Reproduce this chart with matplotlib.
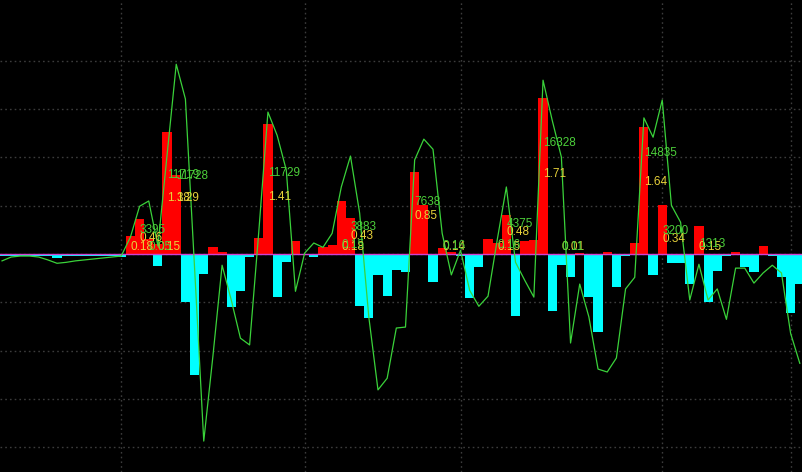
import matplotlib
matplotlib.use("Agg")
import matplotlib.pyplot as plt
import numpy as np

# ---- data (one value per trading bar, left to right) ----
red_vals = [
    0, 0, 0, 0, 0, 0, 0, 0, 0, 0,
    0, 0, 0, 0, 0.37, 0.72, 0.31, 0.21, 2.53, 1.64,
    0, 0, 0, 0.14, 0.05, 0, 0, 0, 0.33, 2.69,
    0, 0, 0.27, 0, 0, 0.14, 0.19, 1.10, 0.75, 0,
    0, 0, 0, 0, 0, 1.70, 1.01, 0, 0.12, 0.04,
    0, 0, 0, 0.31, 0.23, 0.81, 0, 0.27, 0.29, 3.23,
    0, 0, 0, 0.02, 0, 0, 0.04, 0, 0, 0.23,
    2.63, 0, 1.01, 0, 0, 0, 0.58, 0, 0, 0,
    0.05, 0, 0, 0.17, 0, 0, 0, 0,
]
cyan_vals = [
    0.04, 0.04, 0.04, 0.04, 0.04, 0.04, 0.08, 0.04, 0.03, 0.03,
    0.03, 0.03, 0.04, 0.05, 0, 0, 0, 0.25, 0, 0,
    0.99, 2.51, 0.41, 0, 0, 1.10, 0.77, 0.06, 0, 0,
    0.89, 0.17, 0, 0, 0.06, 0, 0, 0, 0, 1.08,
    1.33, 0.43, 0.87, 0.33, 0.37, 0, 0, 0.58, 0, 0,
    0.04, 0.91, 0.27, 0, 0, 0, 1.28, 0, 0, 0,
    1.18, 0.23, 0.48, 0, 0.89, 1.61, 0, 0.68, 0.04, 0,
    0, 0.43, 0, 0.19, 0.19, 0.62, 0, 0.99, 0.35, 0.04,
    0, 0.27, 0.37, 0, 0.03, 0.48, 1.22, 0.62,
]
line_vals = [
    -0.14, -0.06, -0.04, -0.04, -0.06, -0.12, -0.19, -0.17, -0.14, -0.12,
    -0.10, -0.08, -0.06, -0.04, 0.35, 0.99, 1.10, 0.17, 2.05, 3.93,
    3.21, -0.29, -3.87, -2.11, -0.23, -0.95, -1.74, -1.88, 0.46, 2.94,
    2.46, 1.74, -0.77, 0.02, 0.23, 0.14, 0.43, 1.39, 2.03, 0.85,
    -1.30, -2.81, -2.57, -1.53, -1.51, 1.95, 2.38, 2.17, 0.43, -0.43,
    0.08, -0.75, -1.08, -0.87, 0.29, 1.39, -0.17, -0.54, -0.89, 3.60,
    2.77, 2.01, -1.84, -0.62, -1.30, -2.38, -2.44, -2.15, -0.72, -0.48,
    2.82, 2.42, 3.19, 1.01, 0.66, -0.95, -0.21, -0.95, -0.72, -1.35,
    -0.29, -0.29, -0.60, -0.39, -0.23, -0.39, -1.64, -2.26,
]

# annotations: (bar index, text, level)
green_labels = [
    (15, "3395", 0.50), (18, "11719", 1.64), (19, "11728", 1.61),
    (29, "11729", 1.68), (38, "3883", 0.56), (45, "7638", 1.08),
    (55, "4375", 0.62), (59, "16328", 2.30), (70, "14835", 2.09),
    (72, "3200", 0.48), (76, "1313", 0.21),
    (16, "0.05", 0.14), (37, "0.15", 0.18), (48, "0.16", 0.17),
    (54, "0.16", 0.19), (61, "0.11", 0.15),
]
yellow_labels = [
    (15, "0.46", 0.34), (18, "1.38", 1.17), (19, "1.29", 1.17),
    (29, "1.41", 1.19), (38, "0.43", 0.37), (45, "0.85", 0.79),
    (55, "0.48", 0.45), (59, "1.71", 1.66), (70, "1.64", 1.50),
    (72, "0.34", 0.32), (76, "0.15", 0.14),
    (14, "0.18", 0.15), (17, "0.15", 0.15), (37, "0.18", 0.14),
    (48, "0.14", 0.15), (54, "0.15", 0.14), (61, "0.01", 0.15),
]
vgrid_pos = [13, 33, 50.1, 72, 86]
ygrid_pos = [-4, -3, -2, -1, 0, 1, 2, 3, 4]

# ---- drawing ----
x = np.arange(len(red_vals))
fig = plt.figure(figsize=(8.03, 4.72), dpi=100, facecolor="black")
ax = fig.add_axes([0, 0, 1, 1])
ax.set_facecolor("black")
for s in ax.spines.values():
    s.set_visible(False)

ax.set_xlim(-0.22, 87.35)
ax.set_ylim(-4.51, 5.26)
ax.set_xticks(vgrid_pos)
ax.set_yticks(ygrid_pos)
ax.tick_params(length=0, labelleft=False, labelbottom=False)
ax.grid(True, color="#3c3c3c", linestyle=(0, (1.2, 2.2)), linewidth=1.0, zorder=0)
ax.set_axisbelow(True)

ax.bar(x, red_vals, width=1.0, color="#ff0000", linewidth=0, zorder=2)
ax.bar(x, -np.array(cyan_vals), width=1.0, color="#00ffff", linewidth=0, zorder=2)
ax.axhline(0, color="#d040d0", linewidth=1.0, zorder=3)
ax.plot(x, line_vals, color="#3ad23a", linewidth=0.9, zorder=4)

font = dict(family=["Liberation Sans", "DejaVu Sans"], fontsize=8.5)
for xi, t, yv in yellow_labels:
    ax.text(xi, yv, t, color="#e8d23a", ha="left", va="center", zorder=5, **font)
for xi, t, yv in green_labels:
    ax.text(xi, yv, t, color="#4ccf3a", ha="left", va="center", zorder=6, **font)

fig.savefig("out.png", dpi=100, facecolor="black")
